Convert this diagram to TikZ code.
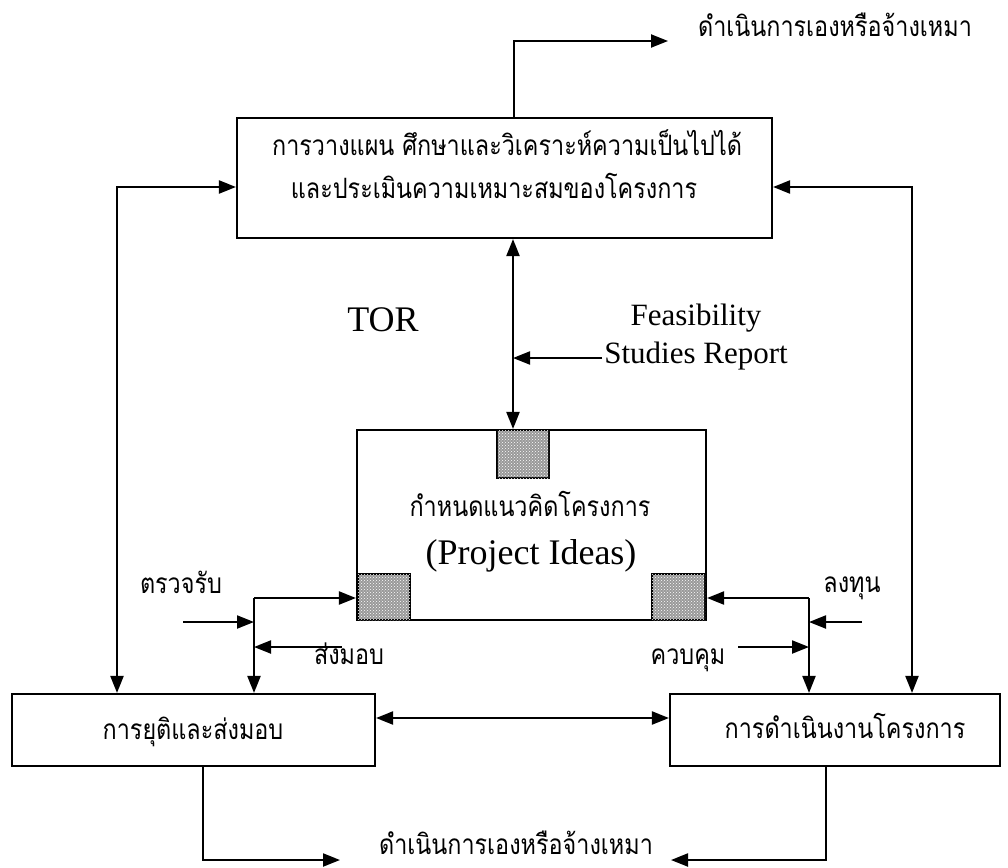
\documentclass[tikz,border=0pt]{standalone}
\usepackage{fontspec}
\setmainfont{Liberation Serif}
\newfontfamily\thai[Script=Thai,FakeStretch=0.835]{Loma}
\usetikzlibrary{arrows.meta,patterns}
\begin{document}
\begin{tikzpicture}[x=1pt,y=-1pt,
  box/.style={draw,line width=2.1pt,inner sep=0pt},
  con/.style={line width=2.1pt},
  tip/.style={-{Triangle[length=17pt,width=13pt]}},
  both/.style={{Triangle[length=17pt,width=13pt]}-{Triangle[length=17pt,width=13pt]}},
  th/.style={font=\thai\fontsize{28}{32}\selectfont,inner sep=0pt,anchor=base},
  en/.style={font=\fontsize{31}{36}\selectfont,inner sep=0pt,anchor=base},
  hatch/.style={draw,line width=2.1pt,fill=gray!80,postaction={pattern=crosshatch dots,pattern color=white}}
]
\useasboundingbox (0,0) rectangle (1008,867);
% boxes
\node[box,minimum width=535pt,minimum height=120pt] (plan) at (504.5,178) {};
\node[box,minimum width=349pt,minimum height=190pt] (idea) at (531.5,525) {};
\node[box,minimum width=363pt,minimum height=72pt] (close) at (193.5,730) {};
\node[box,minimum width=330pt,minimum height=72pt] (exec) at (835,730) {};
% hatched squares
\node[hatch,minimum width=52pt,minimum height=48pt,inner sep=0pt] (sqT) at (523,454) {};
\node[hatch,minimum width=52pt,minimum height=46pt,inner sep=0pt] (sqL) at (384,597) {};
\node[hatch,minimum width=53pt,minimum height=46pt,inner sep=0pt] (sqR) at (678.5,597) {};
% texts
\node[th] (planA) at (507,155) {การวางแผน ศึกษาและวิเคราะห์ความเป็นไปได้};
\node[th] (planB) at (494,198) {และประเมินความเหมาะสมของโครงการ};
\node[th] (topT) at (835,37) {ดำเนินการเองหรือจ้างเหมา};
\node[th] (botT) at (516,854) {ดำเนินการเองหรือจ้างเหมา};
\node[en,font=\fontsize{36}{40}\selectfont] (tor) at (383,331) {TOR};
\node[en] (feas) at (696,325) {Feasibility};
\node[en] (stud) at (696,363) {Studies Report};
\node[th] (ideaT) at (530,516) {กำหนดแนวคิดโครงการ};
\node[en,font=\fontsize{36}{40}\selectfont] (ideaE) at (531,564) {(Project Ideas)};
\node[th] (chk) at (181,593) {ตรวจรับ};
\node[th] (inv) at (852,592) {ลงทุน};
\node[th] (deliv) at (349,664) {ส่งมอบ};
\node[th] (ctrl) at (688,664) {ควบคุม};
\node[th] (closeT) at (193,739) {การยุติและส่งมอบ};
\node[th] (execT) at (845,738) {การดำเนินงานโครงการ};
% coordinates
\coordinate (tA) at (514,41);
\coordinate (tB) at (668,41);
\coordinate (bL1) at (203,860);
\coordinate (bL2) at (340,860);
\coordinate (bR1) at (826,860);
\coordinate (bR2) at (671,860);
\coordinate (lV) at (117,187);
\coordinate (rV) at (912,187);
\coordinate (lJ) at (254,598);
\coordinate (rJ) at (809,598);
\coordinate (inL) at (183,622);
\coordinate (inR) at (862,622);
\coordinate (dS) at (342,647);
\coordinate (cS) at (738,647);
\coordinate (fS) at (602,358);
\coordinate (mV) at (513,358);
\coordinate (hM) at (0,718);
% connectors
\draw[con,tip] (plan.north -| tA) -- (tA) -- (tB);
\draw[con,both] (plan.south -| mV) -- (idea.north -| mV);
\draw[con,tip] (fS) -- (mV);
\draw[con,both] (plan.west |- lV) -- (lV) -- (close.north -| lV);
\draw[con,both] (plan.east |- rV) -- (rV) -- (exec.north -| rV);
\draw[con,tip] (lJ) -- (close.north -| lJ);
\draw[con,tip] (lJ) -- (idea.west |- lJ);
\draw[con,tip] (inL) -- (lJ |- inL);
\draw[con,tip] (dS) -- (lJ |- dS);
\draw[con,tip] (rJ) -- (exec.north -| rJ);
\draw[con,tip] (rJ) -- (idea.east |- rJ);
\draw[con,tip] (inR) -- (rJ |- inR);
\draw[con,tip] (cS) -- (rJ |- cS);
\draw[con,both] (close.east |- hM) -- (exec.west |- hM);
\draw[con,tip] (close.south -| bL1) -- (bL1) -- (bL2);
\draw[con,tip] (exec.south -| bR1) -- (bR1) -- (bR2);
\end{tikzpicture}
\end{document}
